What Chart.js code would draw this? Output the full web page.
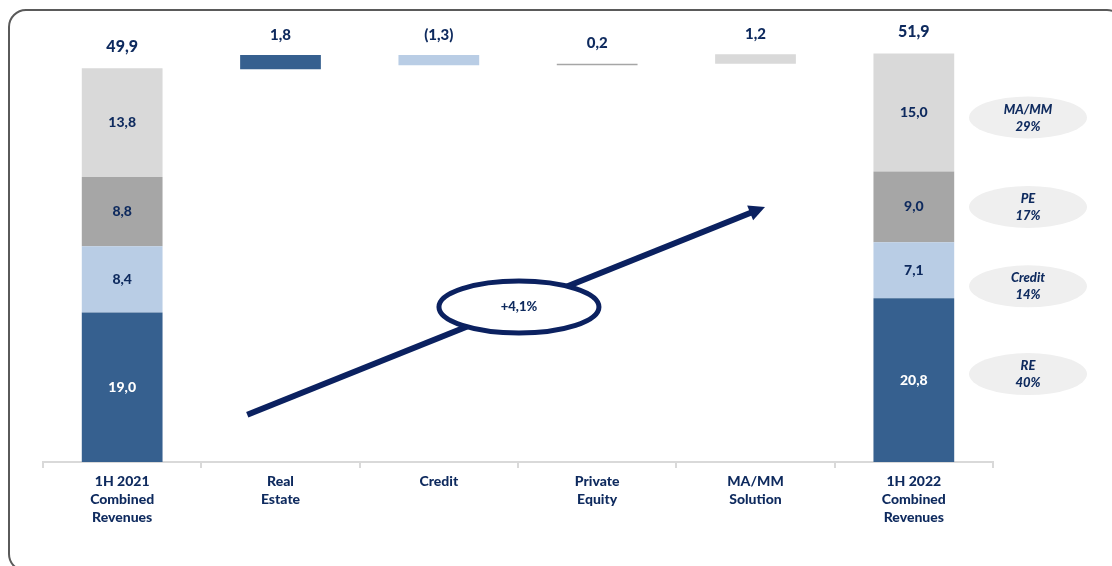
<!DOCTYPE html>
<html>
<head>
<meta charset="utf-8">
<script src="https://cdn.jsdelivr.net/npm/chart.js@4.4.0/dist/chart.umd.min.js"></script>
<style>
html, body { margin: 0; padding: 0; background: #fff; }
body { width: 1112px; height: 566px; overflow: hidden; position: relative; }
#frame { position: absolute; left: 8px; top: 9px; width: 1113px; height: 559px; border: 2px solid #5a5a5a; border-radius: 18px; }
#wrap { position: absolute; left: 0; top: 0; width: 1112px; height: 566px; }
</style>
</head>
<body>
<div id="frame"></div>
<div id="wrap"><canvas id="chart"></canvas></div>
<script>
// --- data ---
const categories = [
    ['1H 2021', 'Combined', 'Revenues'],
    ['Real', 'Estate'],
    ['Credit'],
    ['Private', 'Equity'],
    ['MA/MM', 'Solution'],
    ['1H 2022', 'Combined', 'Revenues']
];
const segmentNames = ['RE', 'Credit', 'PE', 'MA/MM'];
const revenues2021 = [19.0, 8.4, 8.8, 13.8];
const revenues2022 = [20.8, 7.1, 9.0, 15.0];
const changes = [1.8, -1.3, 0.2, 1.2];
const totals = [49.9, 51.9];
const shares2022 = ['40%', '14%', '17%', '29%'];
const growthLabel = '+4,1%';

const segmentColors = ['#36608f', '#b9cde5', '#a6a6a6', '#d9d9d9'];
const NAVY = '#0e2a5e';
const FONT = 'Lato, "DejaVu Sans", sans-serif';
const W = '900';

// stacked ranges for the two totals, running level for the bridge steps
function stackRanges(values) {
    let acc = 0;
    return values.map(v => { const r = [acc, acc + v]; acc += v; return r; });
}
const ranges21 = stackRanges(revenues2021);
const ranges22 = stackRanges(revenues2022);
let level = totals[0];
const steps = changes.map(c => { const r = [level, level + c]; level += c; return r; });

const last = categories.length - 1;
const datasets = segmentNames.map((name, i) => ({
    label: name,
    data: categories.map((_, k) => {
        if (k === 0) return ranges21[i];
        if (k === last) return ranges22[i];
        return (k - 1 === i) ? steps[i] : null;
    }),
    backgroundColor: segmentColors[i],
    borderWidth: 0,
    grouped: false,
    barPercentage: 0.51,
    categoryPercentage: 1
}));

const fmt = v => {
    const s = Math.abs(v).toFixed(1).replace('.', ',');
    return v < 0 ? '(' + s + ')' : s;
};

// labels, share bubbles and growth arrow
const labelsPlugin = {
    id: 'labels',
    afterDatasetsDraw(chart) {
        const ctx = chart.ctx;
        const y = chart.scales.y;
        const area = chart.chartArea;
        ctx.save();
        ctx.textAlign = 'center';
        ctx.textBaseline = 'middle';

        // values inside the stacked bars
        ctx.font = W + ' 14px ' + FONT;
        segmentNames.forEach((_, i) => {
            const meta = chart.getDatasetMeta(i);
            [0, last].forEach(k => {
                const el = meta.data[k];
                const v = k === 0 ? revenues2021[i] : revenues2022[i];
                ctx.fillStyle = i === 0 ? '#ffffff' : NAVY;
                ctx.fillText(fmt(v), el.x, (el.y + el.base) / 2);
            });
        });

        // values above the bars
        ctx.font = W + ' 16px ' + FONT;
        ctx.fillStyle = NAVY;
        const x0 = chart.getDatasetMeta(0).data[0].x;
        const xl = chart.getDatasetMeta(0).data[last].x;
        ctx.fillText(fmt(totals[0]), x0, y.getPixelForValue(totals[0]) - 22);
        ctx.fillText(fmt(totals[1]), xl, y.getPixelForValue(totals[1]) - 22);
        ctx.font = W + ' 15px ' + FONT;
        steps.forEach((s, i) => {
            const el = chart.getDatasetMeta(i).data[i + 1];
            ctx.fillText(fmt(changes[i]), el.x, y.getPixelForValue(Math.max(s[0], s[1])) - 20);
        });

        // share bubbles next to the 2022 bar
        const nudge = [-6, 16, 0, 5];
        const bx = area.right + 35;
        segmentNames.forEach((name, i) => {
            const el = chart.getDatasetMeta(i).data[last];
            const cy = (el.y + el.base) / 2 + nudge[i];
            ctx.fillStyle = '#efefef';
            ctx.beginPath();
            ctx.ellipse(bx, cy, 59, 21, 0, 0, Math.PI * 2);
            ctx.fill();
            ctx.fillStyle = NAVY;
            ctx.font = 'italic ' + W + ' 13px ' + FONT;
            ctx.fillText(name, bx, cy - 8);
            ctx.fillText(shares2022[i], bx, cy + 9);
        });

        // growth arrow
        const px = f => area.left + f * (area.right - area.left);
        const py = f => area.top + f * (area.bottom - area.top);
        const ax = px(0.215), ay = py(0.891);
        const tx = px(0.76), ty = py(0.411);
        const ang = Math.atan2(ty - ay, tx - ax);
        ctx.strokeStyle = '#0b2160';
        ctx.fillStyle = '#0b2160';
        ctx.lineWidth = 6;
        ctx.beginPath();
        ctx.moveTo(ax, ay);
        ctx.lineTo(tx - 12 * Math.cos(ang), ty - 12 * Math.sin(ang));
        ctx.stroke();
        ctx.beginPath();
        ctx.moveTo(tx, ty);
        ctx.lineTo(tx - 16 * Math.cos(ang) + 8 * Math.sin(ang), ty - 16 * Math.sin(ang) - 8 * Math.cos(ang));
        ctx.lineTo(tx - 16 * Math.cos(ang) - 8 * Math.sin(ang), ty - 16 * Math.sin(ang) + 8 * Math.cos(ang));
        ctx.closePath();
        ctx.fill();

        const ex = px(0.501), ey = py(0.642);
        ctx.beginPath();
        ctx.ellipse(ex, ey, 80, 26, 0, 0, Math.PI * 2);
        ctx.fillStyle = '#ffffff';
        ctx.fill();
        ctx.lineWidth = 5;
        ctx.stroke();
        ctx.fillStyle = NAVY;
        ctx.font = W + ' 13px ' + FONT;
        ctx.fillText(growthLabel, ex, ey);
        ctx.restore();
    }
};

new Chart(document.getElementById('chart'), {
    type: 'bar',
    data: { labels: categories, datasets },
    options: {
        responsive: true,
        maintainAspectRatio: false,
        animation: false,
        layout: { padding: { top: 29, left: 43, right: 119, bottom: 0 } },
        plugins: { legend: { display: false }, tooltip: { enabled: false } },
        scales: {
            y: { display: false, min: 0, max: 55 },
            x: {
                offset: true,
                grid: { offset: true, drawOnChartArea: false, drawTicks: true, tickLength: 6, color: '#d9d9d9', lineWidth: 2 },
                border: { color: '#d9d9d9', width: 2 },
                ticks: { color: NAVY, font: { family: FONT, size: 14, weight: W, lineHeight: 1.3 }, padding: 4, maxRotation: 0, autoSkip: false },
                afterFit: s => { s.height = 104; }
            }
        }
    },
    plugins: [labelsPlugin]
});
</script>
</body>
</html>
